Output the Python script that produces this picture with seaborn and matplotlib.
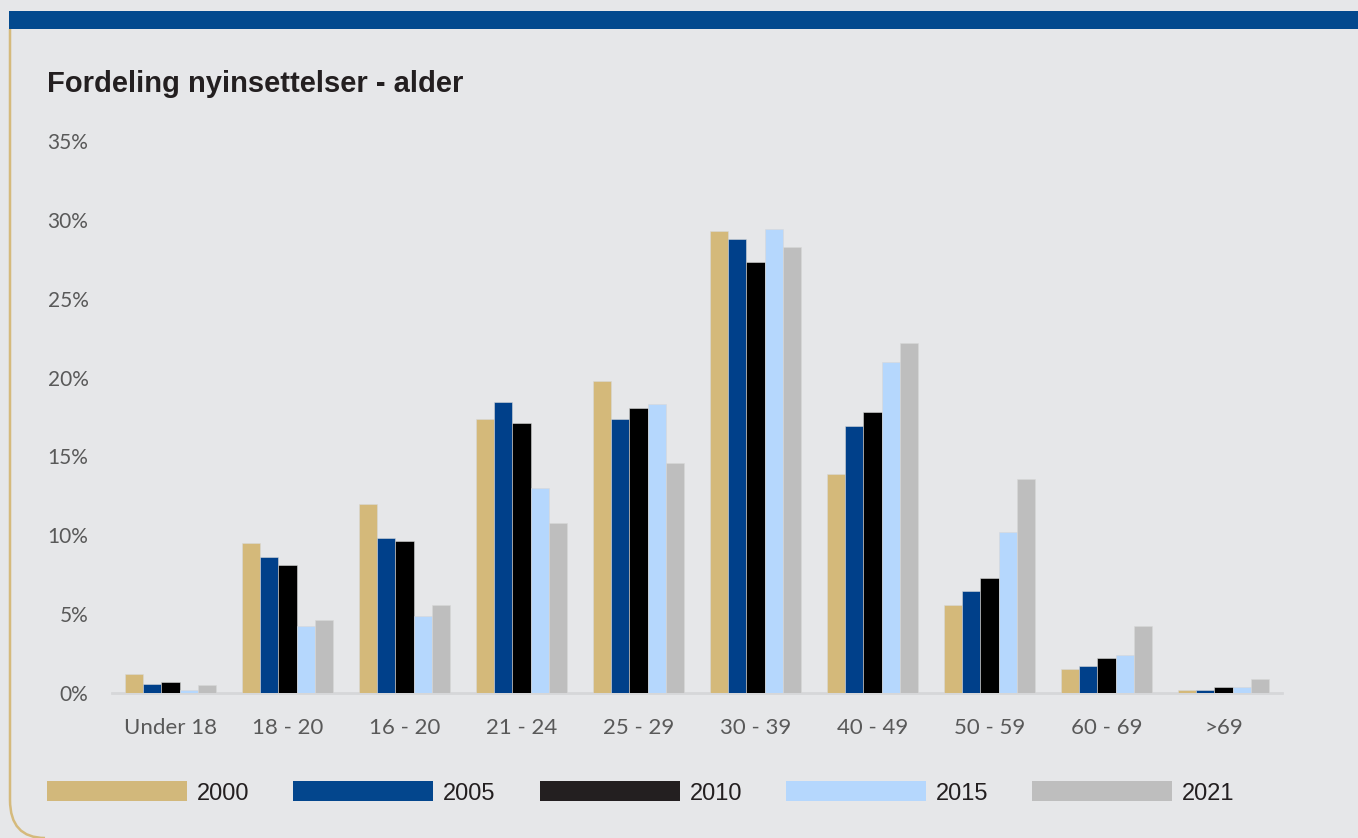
import pandas as pd
import matplotlib.pyplot as plt
import seaborn as sns
from matplotlib.patches import Rectangle, Patch, PathPatch
from matplotlib.path import Path
from matplotlib.ticker import PercentFormatter

# Data (share of new inmates by age group)
AGE_GROUPS = ["Under 18", "18 - 20", "16 - 20", "21 - 24", "25 - 29",
              "30 - 39", "40 - 49", "50 - 59", "60 - 69", ">69"]
YEARS = ["2000", "2005", "2010", "2015", "2021"]
Y2000 = [1.2, 9.5, 12.0, 17.4, 19.8, 29.3, 13.9, 5.6, 1.55, 0.2]
Y2005 = [0.57, 8.6, 9.8, 18.45, 17.4, 28.8, 16.9, 6.45, 1.7, 0.2]
Y2010 = [0.7, 8.1, 9.65, 17.1, 18.1, 27.3, 17.8, 7.3, 2.2, 0.37]
Y2015 = [0.2, 4.25, 4.9, 13.0, 18.3, 29.45, 21.0, 10.2, 2.4, 0.37]
Y2021 = [0.53, 4.6, 5.6, 10.8, 14.6, 28.3, 22.2, 13.55, 4.25, 0.87]

COLORS = ["#d4b97a", "#00408a", "#000000", "#b5d7fd", "#bebebe"]
LEGEND_COLORS = ["#d2b87b", "#03468d", "#231f20", "#b5d7fd", "#bebebe"]
BG = "#e6e7e9"
W, H = 1358, 838


def main():
    rows = []
    for year, vals in zip(YEARS, [Y2000, Y2005, Y2010, Y2015, Y2021]):
        for age, v in zip(AGE_GROUPS, vals):
            rows.append({"age": age, "year": year, "share": v / 100})
    df = pd.DataFrame(rows)

    sns.set_theme(style="white")
    fig = plt.figure(figsize=(W / 100, H / 100), dpi=100, facecolor=BG)

    # background decoration in pixel coordinates
    bg = fig.add_axes([0, 0, 1, 1], zorder=0)
    bg.set_xlim(0, W)
    bg.set_ylim(H, 0)
    bg.axis("off")
    bg.add_patch(Rectangle((9, 11), W, 18, color="#02498e", lw=0))
    verts = [(10, 29), (10, 800), (10, 838), (45, 838)]
    codes = [Path.MOVETO, Path.LINETO, Path.CURVE3, Path.CURVE3]
    bg.add_patch(PathPatch(Path(verts, codes), fill=False, ec="#d5ba7c", lw=1.8))

    ax = fig.add_axes([112 / W, 1 - 693 / H, 1170 / W, 552 / H], zorder=1)
    ax.set_facecolor("none")
    sns.barplot(data=df, x="age", y="share", hue="year", order=AGE_GROUPS,
                hue_order=YEARS, palette=COLORS, width=0.77, saturation=1,
                edgecolor="#d8d8d8", linewidth=0.4, legend=False, ax=ax)

    ax.set_xlim(-0.5, len(AGE_GROUPS) - 0.5)
    ax.set_ylim(0, 0.35)
    ax.set_yticks([i * 0.05 for i in range(8)])
    ax.yaxis.set_major_formatter(PercentFormatter(1.0, decimals=0))
    ax.set_xlabel("")
    ax.set_ylabel("")
    for s in ["top", "right", "left"]:
        ax.spines[s].set_visible(False)
    ax.spines["bottom"].set_color("#d6d7d9")
    ax.spines["bottom"].set_linewidth(2)
    ax.spines["bottom"].set_zorder(0.5)
    ax.tick_params(axis="both", length=0, labelcolor="#595959")
    ax.tick_params(axis="y", pad=17, labelsize=15)
    ax.tick_params(axis="x", pad=18, labelsize=16)
    for lab in ax.get_xticklabels() + ax.get_yticklabels():
        lab.set_family("Lato")

    fig.text(47 / W, 1 - 92 / H, "Fordeling nyinsettelser - alder",
             fontsize=21, fontweight="bold", color="#231f20",
             family="Liberation Sans", va="baseline", ha="left")

    handles = [Patch(facecolor=c, edgecolor="none") for c in LEGEND_COLORS]
    fig.legend(handles, YEARS, loc="center left",
               bbox_to_anchor=(47 / W, 1 - 793 / H), ncol=5, frameon=False,
               borderpad=0, borderaxespad=0, handlelength=5.93,
               handleheight=0.93, handletextpad=0.42, columnspacing=1.86,
               prop={"family": "Liberation Sans", "size": 17},
               labelcolor="#231f20")

    fig.savefig("out.png", dpi=100, facecolor=BG)
    plt.close(fig)


if __name__ == "__main__":
    main()
